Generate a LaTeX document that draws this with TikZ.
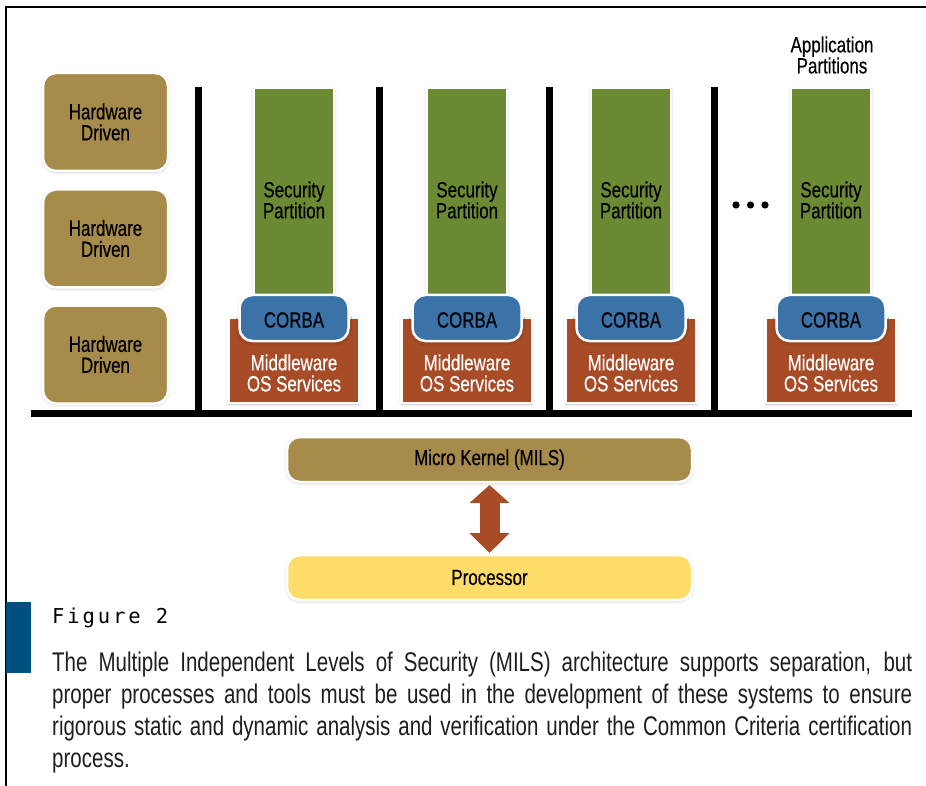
\documentclass[tikz,border=0pt]{standalone}
\usepackage{fontspec}
\usetikzlibrary{arrows.meta,shadows.blur}
\newfontfamily\diagfont{Liberation Sans}[FakeStretch=0.77,FakeBold=0.4]
\newfontfamily\capfont{Liberation Sans}[FakeStretch=0.76]
\newfontfamily\figfont{DejaVu Sans Mono}[LetterSpace=14]

\definecolor{olivegold}{RGB}{166,139,74}
\definecolor{partgreen}{RGB}{107,138,51}
\definecolor{corbablue}{RGB}{59,114,168}
\definecolor{rust}{RGB}{168,75,39}
\definecolor{procyellow}{RGB}{254,220,106}
\definecolor{barblue}{RGB}{0,80,127}
\definecolor{captext}{RGB}{30,30,30}

\tikzset{
  soft/.style={blur shadow={shadow xshift=0pt, shadow yshift=-1pt,
      shadow blur radius=3pt, shadow opacity=25}},
  box/.style={draw=white, line width=2.5pt, inner sep=0pt, outer sep=0pt,
      align=center, soft},
  hwbox/.style={box, fill=olivegold, rounded corners=13pt,
      minimum width=125pt, minimum height=98pt},
  partbox/.style={box, fill=partgreen, minimum width=80pt, minimum height=210pt},
  corbabox/.style={box, fill=corbablue, rounded corners=13pt,
      minimum width=109pt, minimum height=46pt},
  mwbox/.style={box, fill=rust, minimum width=131pt, minimum height=85pt},
  layerbox/.style={box, rounded corners=13pt, minimum width=405pt, minimum height=45pt},
  lbl/.style={font=\diagfont\fontsize{22}{21}\selectfont, align=center, inner sep=0pt},
  wall/.style={line width=7pt, black},
}

\begin{document}
\begin{tikzpicture}[x=1pt,y=-1pt]
\useasboundingbox (0,0) rectangle (926,786);

% page frame
\draw[line width=1.5pt] (6,786) -- (6,7) -- (926,7);

% separation walls and base
\draw[wall] (198,87) -- (198,417);
\draw[wall] (379,87) -- (379,417);
\draw[wall] (549,87) -- (549,417);
\draw[wall] (714,87) -- (714,417);
\draw[wall] (31,413.5) -- (912,413.5);

% hardware driven partitions
\node[hwbox] (hw1) at (105.5,122) {};
\node[hwbox] (hw2) at (105.5,238.5) {};
\node[hwbox] (hw3) at (105.5,354.5) {};
\node[lbl] at (hw1) {Hardware\\Driven};
\node[lbl] at (hw2) {Hardware\\Driven};
\node[lbl] at (hw3) {Hardware\\Driven};

% application partitions
\foreach \cx/\n in {294/1,467/2,631/3,831/4}{
  \node[partbox] (sp\n) at (\cx,193) {};
  \node[lbl] (spl\n) at (\cx,200) {Security\\Partition};
  \node[mwbox] (mw\n) at (\cx,360.5) {};
  \node[lbl, text=white] (mwl\n) at (\cx,373) {Middleware\\OS Services};
  \node[corbabox] (cb\n) at (\cx,318) {};
  \node[lbl] (cbl\n) at (\cx,320) {CORBA};
}

% ellipsis between partitions
\foreach \dx in {736,750.5,765}
  \fill (\dx,205) circle (3.6pt);

\node[lbl] (apptitle) at (832,55) {Application\\Partitions};

% kernel and processor
\node[layerbox, fill=olivegold] (kernel) at (489.5,459.5) {};
\node[lbl] at (kernel) {Micro Kernel (MILS)};
\node[layerbox, fill=procyellow] (proc) at (489.5,577.5) {};
\node[lbl] at (proc) {Processor};

\draw[rust, line width=20pt,
      {Triangle[width=39pt,length=18pt]}-{Triangle[width=39pt,length=20pt]},
      shorten <=3pt, shorten >=2pt]
  (kernel.south) -- (proc.north);

% caption
\fill[barblue] (6,602) rectangle (31,673);
\node[anchor=base west, inner sep=0pt, font=\figfont\fontsize{20.5}{21}\selectfont]
  (figlbl) at (52,623) {Figure 2};
\node[anchor=north west, inner sep=0pt, text width=860pt, align=justify, text=captext,
      font=\capfont\fontsize{27}{32}\selectfont] (caption) at (52,652)
  {\hyphenpenalty=10000 \exhyphenpenalty=10000
   The Multiple Independent Levels of Security (MILS) architecture supports separation, but\linebreak
   proper processes and tools must be used in the development of these systems to ensure\linebreak
   rigorous static and dynamic analysis and verification under the Common Criteria certification\linebreak
   process.};
\end{tikzpicture}
\end{document}
